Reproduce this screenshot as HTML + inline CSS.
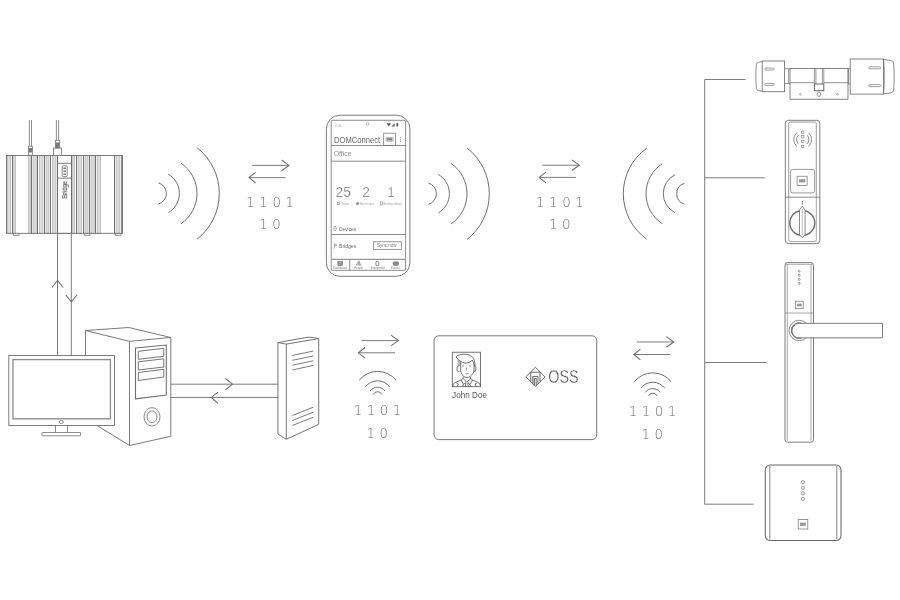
<!DOCTYPE html>
<html lang="en"><head><meta charset="utf-8"><title>DOM Connect system overview</title>
<style>
html,body{margin:0;padding:0;background:#fff;}
body{width:900px;height:600px;overflow:hidden;}
svg{display:block;}
text{font-family:"Liberation Sans",sans-serif;}
.tx{opacity:0.999;}
.dg{font-family:"DejaVu Sans","Liberation Sans",sans-serif;font-weight:200;font-size:13.4px;fill:#6c6c6c;text-anchor:middle;letter-spacing:0.15px;word-spacing:0px;}
</style></head><body>
<svg width="900" height="600" viewBox="0 0 900 600">
<rect width="900" height="600" fill="#fff"/>
<g fill="none" stroke="#6e6e6e" stroke-width="0.9" stroke-linecap="butt" stroke-linejoin="miter">
<g stroke="#9c9c9c" stroke-width="0.5" fill="#dcdcdc">
<rect x="7.4" y="155.5" width="3.10" height="77.80"/>
<rect x="13.8" y="155.5" width="1.80" height="77.80"/>
<rect x="28.4" y="155.5" width="1.80" height="77.80"/>
<rect x="33" y="155.5" width="3.20" height="77.80"/>
<rect x="39.3" y="155.5" width="3.70" height="77.80"/>
<rect x="46" y="155.5" width="3.00" height="77.80"/>
<rect x="52.3" y="155.5" width="3.70" height="77.80"/>
<rect x="72.5" y="155.5" width="2.20" height="77.80"/>
<rect x="78" y="155.5" width="3.50" height="77.80"/>
<rect x="85" y="155.5" width="3.00" height="77.80"/>
<rect x="91" y="155.5" width="3.20" height="77.80"/>
<rect x="97.1" y="155.5" width="3.70" height="77.80"/>
<rect x="116" y="155.5" width="3.90" height="77.80"/>
</g>
<path d="M12.5,155.5 V233.3 M31.5,155.5 V233.3 M37.5,155.5 V233.3 M44.5,155.5 V233.3 M50.5,155.5 V233.3 M76.5,155.5 V233.3 M83.5,155.5 V233.3 M89.5,155.5 V233.3 M95.5,155.5 V233.3 M114.5,155.5 V233.3 M121.7,155.5 V233.3 " stroke="#747474" stroke-width="1"/>
<rect x="6.5" y="155.5" width="116.0" height="77.80"/>
<rect x="57.5" y="155.5" width="14" height="77.80" fill="#fff" stroke-width="1"/>
<path d="M57.5,163.3 H71.5 M57.5,178.2 H71.5"/>
<rect x="62.2" y="165.8" width="5" height="10.8" rx="1.2" stroke-width="0.7" stroke="#555"/>
<path d="M63.4,168.2 h2.6 M63.4,171.2 h2.6 M63.4,174.2 h2.6" stroke-width="1.5" stroke="#777"/>
<path d="M13.3,233.3 v2 h5.8 v-2 M84.2,233.3 v2 h5.8 v-2 M115.2,233.3 v2 h5.8 v-2" stroke-width="0.8"/>
<path d="M29.4,120.2 V146.2 M31.5,120.2 V146.2" stroke-width="0.8"/>
<rect x="28.6" y="146.3" width="3.8" height="8.8" stroke-width="0.7" fill="#fff"/>
<rect x="28.6" y="148" width="3.8" height="4.5" fill="#7a7a7a" stroke="none"/>
<path d="M56.4,120.2 V140.6 M58.6,120.2 V140.6" stroke-width="0.8"/>
<rect x="55.4" y="140.6" width="4.3" height="7.4" fill="#fff" stroke-width="0.7"/>
<rect x="55.4" y="142.4" width="4.3" height="5.6" fill="#7a7a7a" stroke="none"/>
<rect x="53.5" y="148.1" width="8.1" height="7.3" stroke-width="0.8" fill="#fff"/>
<path d="M57.5,233.3 V355.5 M71.3,233.3 V355.5"/>
<path d="M52,287.5 L57.5,280.3 L63.2,287.5 M65.8,295 L71.3,301.8 L77,295" stroke-width="1.05"/>
<g stroke-width="1">
<path d="M158.40,182.85 A11.02,11.02 0 0 1 158.40,204.05"/>
<path d="M168.40,174.25 A22.26,22.26 0 0 1 168.40,212.65"/>
<path d="M181.00,163.15 A36.69,36.69 0 0 1 181.00,223.75"/>
<path d="M197.00,147.65 A58.18,58.18 0 0 1 197.00,239.25"/>
<path d="M428.40,183.10 A11.02,11.02 0 0 1 428.40,204.30"/>
<path d="M438.40,174.50 A22.26,22.26 0 0 1 438.40,212.90"/>
<path d="M451.00,163.40 A36.69,36.69 0 0 1 451.00,224.00"/>
<path d="M467.00,147.90 A58.18,58.18 0 0 1 467.00,239.50"/>
<path d="M684.30,183.30 A10.92,10.92 0 0 0 684.30,204.10"/>
<path d="M675.00,174.70 A21.28,21.28 0 0 0 675.00,212.70"/>
<path d="M662.30,163.70 A35.76,35.76 0 0 0 662.30,223.70"/>
<path d="M646.70,148.20 A55.94,55.94 0 0 0 646.70,239.20"/>
</g>
<path d="M252,165.4 h37 M249,177.6 h36.6"/><path stroke-width="1.05" d="M281.6,160.0 L289,165.4 L281.6,170.70000000000002 M255.6,172.29999999999998 L249,177.6 L255.6,183.0"/>
<path d="M542.3,165.2 h37 M539.3,177.39999999999998 h36.6"/><path stroke-width="1.05" d="M571.9,159.79999999999998 L579.3,165.2 L571.9,170.5 M545.9,172.09999999999997 L539.3,177.39999999999998 L545.9,182.79999999999998"/>
<path d="M361.4,340.6 h37 M358.4,352.8 h36.6"/><path stroke-width="1.05" d="M391.0,335.20000000000005 L398.4,340.6 L391.0,345.90000000000003 M365.0,347.5 L358.4,352.8 L365.0,358.2"/>
<path d="M636.8,342.0 h37 M633.8,354.5 h36.6"/><path stroke-width="1.05" d="M666.4,336.6 L673.8,342.0 L666.4,347.3 M640.4,349.2 L633.8,354.5 L640.4,359.9"/>
<g stroke-width="1"><path d="M359.15,380.20 A23.64,23.64 0 0 1 395.95,380.20"/><path d="M365.45,386.80 A15.20,15.20 0 0 1 389.65,386.80"/><path d="M370.05,391.00 A9.30,9.30 0 0 1 385.05,391.00"/><path d="M373.25,394.50 A4.70,4.70 0 0 1 381.85,394.50"/></g>
<g stroke-width="1"><path d="M634.35,381.65 A23.64,23.64 0 0 1 671.15,381.65"/><path d="M640.65,388.25 A15.20,15.20 0 0 1 664.85,388.25"/><path d="M645.25,392.45 A9.30,9.30 0 0 1 660.25,392.45"/><path d="M648.45,395.95 A4.70,4.70 0 0 1 657.05,395.95"/></g>
<path d="M745.5,79.5 H704.7 V504.2 H753.7 M704.7,177.8 H764.7 M704.7,362.5 H766.7"/>
<rect x="326.4" y="115.2" width="83.5" height="161.1" rx="13.5" ry="13.5"/>
<rect x="331.2" y="120.3" width="74.4" height="150" rx="0.6" stroke="#787878" stroke-width="0.85"/>
<path d="M331.4,145.5 H405.6 M331.4,161.2 H405.6 M331.4,234.5 H405.6 M349.7,259.3 V270.3" stroke-width="0.8"/>
<path d="M331.4,259.3 H405.6" stroke-width="1.3" stroke="#969696"/>
<circle cx="367.7" cy="123.8" r="1.3" stroke-width="0.5"/>
<path d="M386.6,123.3 l2.2,3.1 l2.2,-3.1 z M391.6,126.4 h3 v-3.2 z" fill="#555" stroke="none"/>
<rect x="396.4" y="123.1" width="1.8" height="3.3" fill="#555" stroke="none"/>
<rect x="383.7" y="133.2" width="11.7" height="12.1" stroke-width="0.7"/>
<rect x="386" y="137.4" width="7.2" height="3.8" rx="0.6" stroke-width="0.5"/>
<rect x="386.8" y="138.1" width="5.6" height="2.4" fill="#858585" stroke="none"/>
<path d="M400.5,137 V141.8" stroke-width="0.7" stroke-dasharray="1.1 0.7"/>
<rect x="337.5" y="202.2" width="2.2" height="2.6" stroke-width="0.5"/>
<circle cx="357.6" cy="203.6" r="1.3" fill="#999" stroke-width="0.4"/>
<rect x="380.6" y="202" width="1.9" height="3" stroke-width="0.5"/>
<rect x="334" y="226.6" width="2.1" height="3.9" rx="0.6" stroke-width="0.6"/>
<path d="M334.3,243.6 V248.6 M334.3,243.9 l2.6,1.3 l-2.6,1.3" stroke-width="0.6"/>
<rect x="373.3" y="241.8" width="28" height="7.5" stroke-width="0.7"/>
<rect x="337.8" y="261.3" width="4.8" height="4.4" fill="#8a8a8a" stroke="#777" stroke-width="0.5"/><path d="M339,262.6 h2.4 M339,264.2 h1.4" stroke="#ddd" stroke-width="0.6"/>
<path d="M356.6,265.7 v-1.6 q2.1,-2 4.2,0 v1.6 M357.9,265.7 v-1.2 h1.6 v1.2" stroke-width="0.6" stroke="#666"/><circle cx="358.7" cy="262.1" r="0.95" stroke-width="0.6" stroke="#666"/>
<rect x="375.9" y="261.4" width="2.9" height="4.3" rx="1" stroke-width="0.75" stroke="#666"/>
<rect x="393.1" y="261.7" width="5.4" height="3.8" rx="1" fill="#8a8a8a" stroke="#777" stroke-width="0.5"/>
<rect x="762.2" y="61" width="22.4" height="30.7" stroke-width="0.85"/>
<path d="M762.2,61.5 L758.2,62.3 Q756.5,62.8 756.3,64.6 C755.7,72 755.7,81 756.3,88.2 Q756.5,90 758.2,90.5 L762.2,91.2" stroke-width="0.8"/>
<rect x="764.8" y="68.1" width="9.2" height="1.9" rx="0.9" stroke-width="0.65"/><rect x="764.8" y="83.5" width="9.2" height="1.9" rx="0.9" stroke-width="0.65"/>
<path d="M784.6,68.7 H790 M784.6,83.5 H790 M788.6,68.7 V83.5" stroke-width="0.7"/>
<path d="M790,68.5 H848 V99.3 H790 Z" stroke-width="0.85"/>
<path d="M790,82.7 H814.4 M823.8,82.7 H848" stroke-width="0.75"/>
<path d="M814.4,68.5 V84 M823.8,68.5 V84 M815.9,68.5 V84 M822.4,68.5 V84" stroke-width="0.7"/>
<rect x="814.4" y="84" width="9.4" height="6.7" stroke-width="1" stroke="#666"/>
<circle cx="800.4" cy="94.3" r="0.9" stroke-width="0.55"/><circle cx="837.4" cy="94.3" r="0.9" stroke-width="0.55"/><ellipse cx="818.9" cy="94.3" rx="1.8" ry="2.2" stroke-width="0.75"/>
<path d="M848,68.6 H850.2 M848,84 H850.2" stroke-width="0.7"/><path d="M848.4,68.5 V84" stroke-width="1.1" stroke="#888"/>
<rect x="850.2" y="59" width="33.3" height="35.1" stroke-width="0.85"/>
<path d="M883.5,59.5 L890.6,60.4 Q893.4,60.8 893.7,63.4 C894.3,72 894.3,82 893.7,89.8 Q893.4,92.6 890.6,93 L883.5,93.7" stroke-width="0.8"/>
<path d="M883.5,59 C885,70 885,83 883.5,94.1" stroke-width="0.6"/>
<rect x="868.7" y="66.8" width="12" height="2" rx="1" stroke-width="0.65"/><rect x="868.7" y="84.6" width="12" height="2" rx="1" stroke-width="0.65"/>
<rect x="785.3" y="120.3" width="34.5" height="123.3" rx="3.2" stroke-width="0.9"/>
<path d="M788.7,123.6 Q788.7,122.1 790.4,122.1 H814.6 Q816.3,122.1 816.3,123.6 V197.2 M788.7,123.6 V197.2" stroke-width="0.7"/>
<path d="M785.3,197.2 H819.8" stroke-width="0.8"/>
<path d="M788.7,197.2 V239.6 Q788.7,241.5 790.6,241.5 H814.4 Q816.3,241.5 816.3,239.6 V197.2" stroke-width="0.6"/>
<rect x="801.4" y="131.0" width="2.5" height="2.4" stroke-width="0.5"/>
<rect x="801.4" y="135.6" width="2.5" height="2.4" stroke-width="0.5"/>
<rect x="801.4" y="140.3" width="2.5" height="2.4" stroke-width="0.5"/>
<rect x="801.4" y="145.2" width="2.5" height="2.4" stroke-width="0.5"/>
<g stroke-width="0.8"><path d="M798.30,135.10 A6.41,6.41 0 0 0 798.30,143.90"/><path d="M796.80,132.80 A9.01,9.01 0 0 0 796.80,146.40"/><path d="M807.10,135.10 A6.41,6.41 0 0 1 807.10,143.90"/><path d="M808.50,132.80 A9.01,9.01 0 0 1 808.50,146.40"/></g>
<rect x="790.6" y="169.4" width="24" height="23.5" rx="2.2" stroke-width="0.7"/>
<rect x="797.1" y="176.2" width="10" height="9.4" stroke-width="0.7"/>
<rect x="799" y="179.2" width="6.2" height="3.2" fill="#999" stroke="none"/>
<circle cx="802.3" cy="223" r="12.5" stroke-width="1.45"/>
<path d="M802.3,206.2 L805.1,210 V234.6 L802.3,237.8 L799.5,234.6 V210 Z" fill="#fff" stroke-width="0.8"/>
<path d="M802.3,209 V235" stroke="#aaa" stroke-width="0.8"/>
<path d="M802.3,200.8 V204.6" stroke-width="0.9"/>
<rect x="785" y="262.6" width="28.5" height="179.6" rx="2.6" stroke-width="0.9"/>
<path d="M787.3,264.3 V440.6 M811,264.3 V440.6 M786,264.3 H812.4 M785,313 H813.4" stroke-width="0.6"/>
<circle cx="799.2" cy="271.2" r="0.95" stroke-width="0.65"/>
<circle cx="799.2" cy="275.3" r="0.95" stroke-width="0.65"/>
<circle cx="799.2" cy="279.4" r="0.95" stroke-width="0.65"/>
<circle cx="799.2" cy="283.4" r="0.95" stroke-width="0.65"/>
<rect x="795.3" y="301.2" width="7.9" height="7.5" stroke-width="0.7"/>
<rect x="796.9" y="303.6" width="4.8" height="2.8" fill="#999" stroke="none"/>
<circle cx="799.2" cy="330.5" r="10.2" fill="#fff" stroke-width="0.8"/>
<path d="M801.5,323.35 H882.5 V337.85 H801.5 A7.6,7.6 0 1 1 801.5,323.35 Z" fill="#fff" stroke-width="0.9"/>
<path d="M801.5,337.85 A7.6,7.6 0 1 1 801.5,323.35" stroke-width="1.3" stroke="#777"/>
<rect x="765.3" y="464.9" width="75.7" height="75.6" rx="4.8" stroke-width="1.05" stroke="#666"/>
<path d="M769.8,466 V539.4 M836.8,466 V539.4" stroke-width="0.85"/>
<circle cx="802.9" cy="482.2" r="1.6" stroke-width="0.7"/>
<circle cx="802.9" cy="487.8" r="1.6" stroke-width="0.7"/>
<circle cx="802.9" cy="493.4" r="1.6" stroke-width="0.7"/>
<circle cx="802.9" cy="499" r="1.6" stroke-width="0.7"/>
<rect x="798.2" y="519.4" width="9.6" height="9.6" stroke-width="0.7"/>
<rect x="800" y="522.6" width="5.8" height="3.3" fill="#999" stroke="none"/>
<path d="M85.5,355.5 V330.5 L128.8,327.5 L170.8,337.5 V436.3 L129.5,445.5 L97.5,425.8 M85.5,330.5 L129.5,341.3 L170.8,337.5 M129.5,341.3 V445.5" stroke-width="0.92"/>
<path d="M135.5,348 L166.3,345 V395 L135.5,398.8 Z" stroke-width="1.05"/>
<path d="M138.3,351.3 L163.8,348.3 V356.3 L138.3,359.3 Z" stroke-width="0.95"/>
<path d="M138.3,361.8 L163.8,358.8 V367 L138.3,370 Z" stroke-width="0.95"/>
<path d="M138.3,372.5 L163.8,369.3 V377 L138.3,380.5 Z" stroke-width="0.95"/>
<ellipse cx="152" cy="416.8" rx="8" ry="9.2" stroke-width="0.8"/><ellipse cx="152" cy="416.8" rx="5" ry="5.9" stroke-width="0.8"/>
<rect x="8.8" y="355.5" width="105.7" height="70" fill="#fff" stroke-width="0.9"/>
<rect x="13" y="359.6" width="97.4" height="59.2" stroke-width="1.3" stroke="#8a8a8a"/>
<ellipse cx="61.4" cy="422" rx="2" ry="1.6" stroke-width="0.8"/>
<path d="M55.5,425.5 V432.5 M67.5,425.5 V432.5" stroke-width="0.8"/>
<rect x="42" y="432.5" width="38.5" height="3.3" rx="0.4" stroke-width="0.8"/>
<path d="M170.8,384.2 H278 M170.8,397.45 H278"/>
<path d="M225.4,378.5 L232.6,384.2 L225.4,389.8 M218,392.1 L211.3,397.45 L218,403.4" stroke-width="1.05"/>
<path d="M277.9,342.6 L308,337.2 Q314,337.3 318.7,338.6 L286.3,344.1 Z M277.9,342.6 V434 L286.3,439.3 V344.1 M318.7,338.6 V424.3 L286.3,439.3" stroke-width="0.95"/>
<path d="M292.3,355.5 L313.3,351 M292.3,360.3 L313.3,356 M292.3,365.2 L313.3,360.8 M292.3,370 L313.3,365.4 M292.3,415.5 L313.3,407.2 M292.3,420.5 L313.3,412.2 M292.3,425.5 L313.3,417.2 " stroke-width="0.9"/>
<rect x="434.1" y="335.8" width="162.6" height="103.8" rx="4.6" stroke="#7a7a7a" stroke-width="1"/>
<rect x="452.3" y="352.2" width="28.3" height="34.5" stroke-width="0.8" stroke="#555"/>
<g stroke="#4c4c4c" stroke-width="0.8">
<path d="M460.7,361.5 V371 C461.2,374 463.6,376.6 465,377.3 H468.6 C470.2,376.6 473.4,374 474,371 V364.4"/>
<path d="M459.4,366 H458.2 Q457.1,366 457.1,367.2 V370.2 Q457.1,371.4 458.2,371.4 H459.4 M474,366 H474.6 Q475.8,366 475.8,367.4 V370 Q475.8,371.4 474.6,371.4 H474"/>
<path d="M456,357 C457.4,355.4 460,354.4 463,354.2 C466.4,353.9 470,354.8 472.4,357 C474,358.6 474.9,361 475,365.8 L474,364.4 C473.6,362.8 473,361.2 472.3,360 C470.6,362.4 467.4,363.4 465,363 C461.6,362.4 458.6,360.2 456,357 Z"/>
<path d="M458,359.2 V366 M459,360.2 V366 M459.9,361 V366" stroke-width="0.6" stroke="#777"/>
<path d="M462,366 H464 M469,366 H471 M466.4,367.6 V370.6 H467.2 M465.3,373.7 Q467,374.3 468.7,373.2" stroke-width="0.55"/>
<path d="M463.2,376.4 V378.4 L466.8,382.4 L470.4,378.4 V376.8 M463.2,378.4 L461,380 L463.6,384.4 L465.6,382.6 M470.4,378.4 L472.6,380 L470,384.4 L468,382.6 M461,380 L454.6,382.8 Q453,383.6 452.8,386.7 M472.6,380 L478.6,382.8 Q480.2,383.6 480.4,386.7 M465.8,383 L465.4,386.7 M467.8,383 L468.2,386.7 M463.6,384.4 L462.6,386.7 M470,384.4 L471,386.7 M457,386.7 L458.4,384 L456.6,383.4 M476.4,386.7 L475,384 L476.8,383.4"/>
</g>
<g stroke="#4c4c4c" stroke-width="0.85">
<path d="M525.8,376.9 L535.4,367.3 L545,376.9 L535.4,386.5 Z"/>
<path d="M530.8,381.6 V372.2 H540 V381.6 M532.8,383.6 V376.4 H537.9 V383.8 M534.4,385.2 V378.4 H536.2 V385.4"/>
<path d="M533.6,377.4 V384 M537.2,377.4 V384" stroke="#aaa" stroke-width="0.9"/>
</g>
</g>
<g class="tx">
<g class="dgs">
<text x="270.20000000000005" y="206.9" class="dg">1 1 0 1</text><text x="270.0" y="229.3" class="dg">1 0</text>
<text x="560.0" y="206.70000000000002" class="dg">1 1 0 1</text><text x="559.8" y="229.1" class="dg">1 0</text>
<text x="377.6" y="414.79999999999995" class="dg">1 1 0 1</text><text x="377.4" y="437.59999999999997" class="dg">1 0</text>
<text x="652.6" y="416.09999999999997" class="dg">1 1 0 1</text><text x="652.4" y="438.79999999999995" class="dg">1 0</text>
</g>
<text x="452.1" y="398.1" font-size="8.6" fill="#565656" textLength="34.9" lengthAdjust="spacingAndGlyphs">John Doe</text>
<text x="548.2" y="383" font-size="17.8" fill="#505050" stroke="#fff" stroke-width="0.32" textLength="30.4" lengthAdjust="spacingAndGlyphs">OSS</text>
<text transform="translate(67.1,198.4) rotate(-90)" font-size="7.3" fill="#222" textLength="17.3" lengthAdjust="spacingAndGlyphs">Bridge</text>
<g fill="#5c5c5c">
<text x="335" y="126.6" font-size="2.6" fill="#999">11:41</text>
<text x="334" y="142.7" font-size="9.3" textLength="46.2" lengthAdjust="spacingAndGlyphs" fill="#686868">DOMConnect</text>
<text x="333.7" y="156.1" font-size="7.6" textLength="17.8" lengthAdjust="spacingAndGlyphs" fill="#8e8e8e">Office</text>
<text x="335.6" y="197.3" font-size="14.2" textLength="15.4" lengthAdjust="spacingAndGlyphs" stroke="#fff" stroke-width="0.35">25</text>
<text x="362.3" y="197.3" font-size="14.2" textLength="7.6" lengthAdjust="spacingAndGlyphs" stroke="#fff" stroke-width="0.35">2</text>
<text x="387.4" y="197.3" font-size="14.2" textLength="7" lengthAdjust="spacingAndGlyphs" stroke="#fff" stroke-width="0.35">1</text>
<text x="341" y="204.6" font-size="2.7" fill="#999" textLength="7.8" lengthAdjust="spacingAndGlyphs">Total</text>
<text x="360" y="204.6" font-size="2.7" fill="#999" textLength="14.2" lengthAdjust="spacingAndGlyphs">Not in sync</text>
<text x="383.6" y="204.6" font-size="2.7" fill="#999" textLength="18" lengthAdjust="spacingAndGlyphs">Battery critical</text>
<text x="339" y="230.5" font-size="6.2" fill="#6a6a6a" textLength="17.2" lengthAdjust="spacingAndGlyphs">Devices</text>
<text x="339" y="247.6" font-size="6.2" fill="#6a6a6a" textLength="17.2" lengthAdjust="spacingAndGlyphs">Bridges</text>
<text x="376.9" y="247.2" font-size="4.8" fill="#808080" textLength="19.5" lengthAdjust="spacingAndGlyphs">Sync now</text>
<text x="332.9" y="269" font-size="3.1" fill="#808080" textLength="14.2" lengthAdjust="spacingAndGlyphs">Dashboard</text>
<text x="354.2" y="269" font-size="3.1" fill="#808080" textLength="8.9" lengthAdjust="spacingAndGlyphs">People</text>
<text x="371.1" y="269" font-size="3.1" fill="#808080" textLength="13.8" lengthAdjust="spacingAndGlyphs">Equipment</text>
<text x="391.1" y="269" font-size="3.1" fill="#808080" textLength="8.5" lengthAdjust="spacingAndGlyphs">Events</text>
</g>
</g>
</svg>
</body></html>
